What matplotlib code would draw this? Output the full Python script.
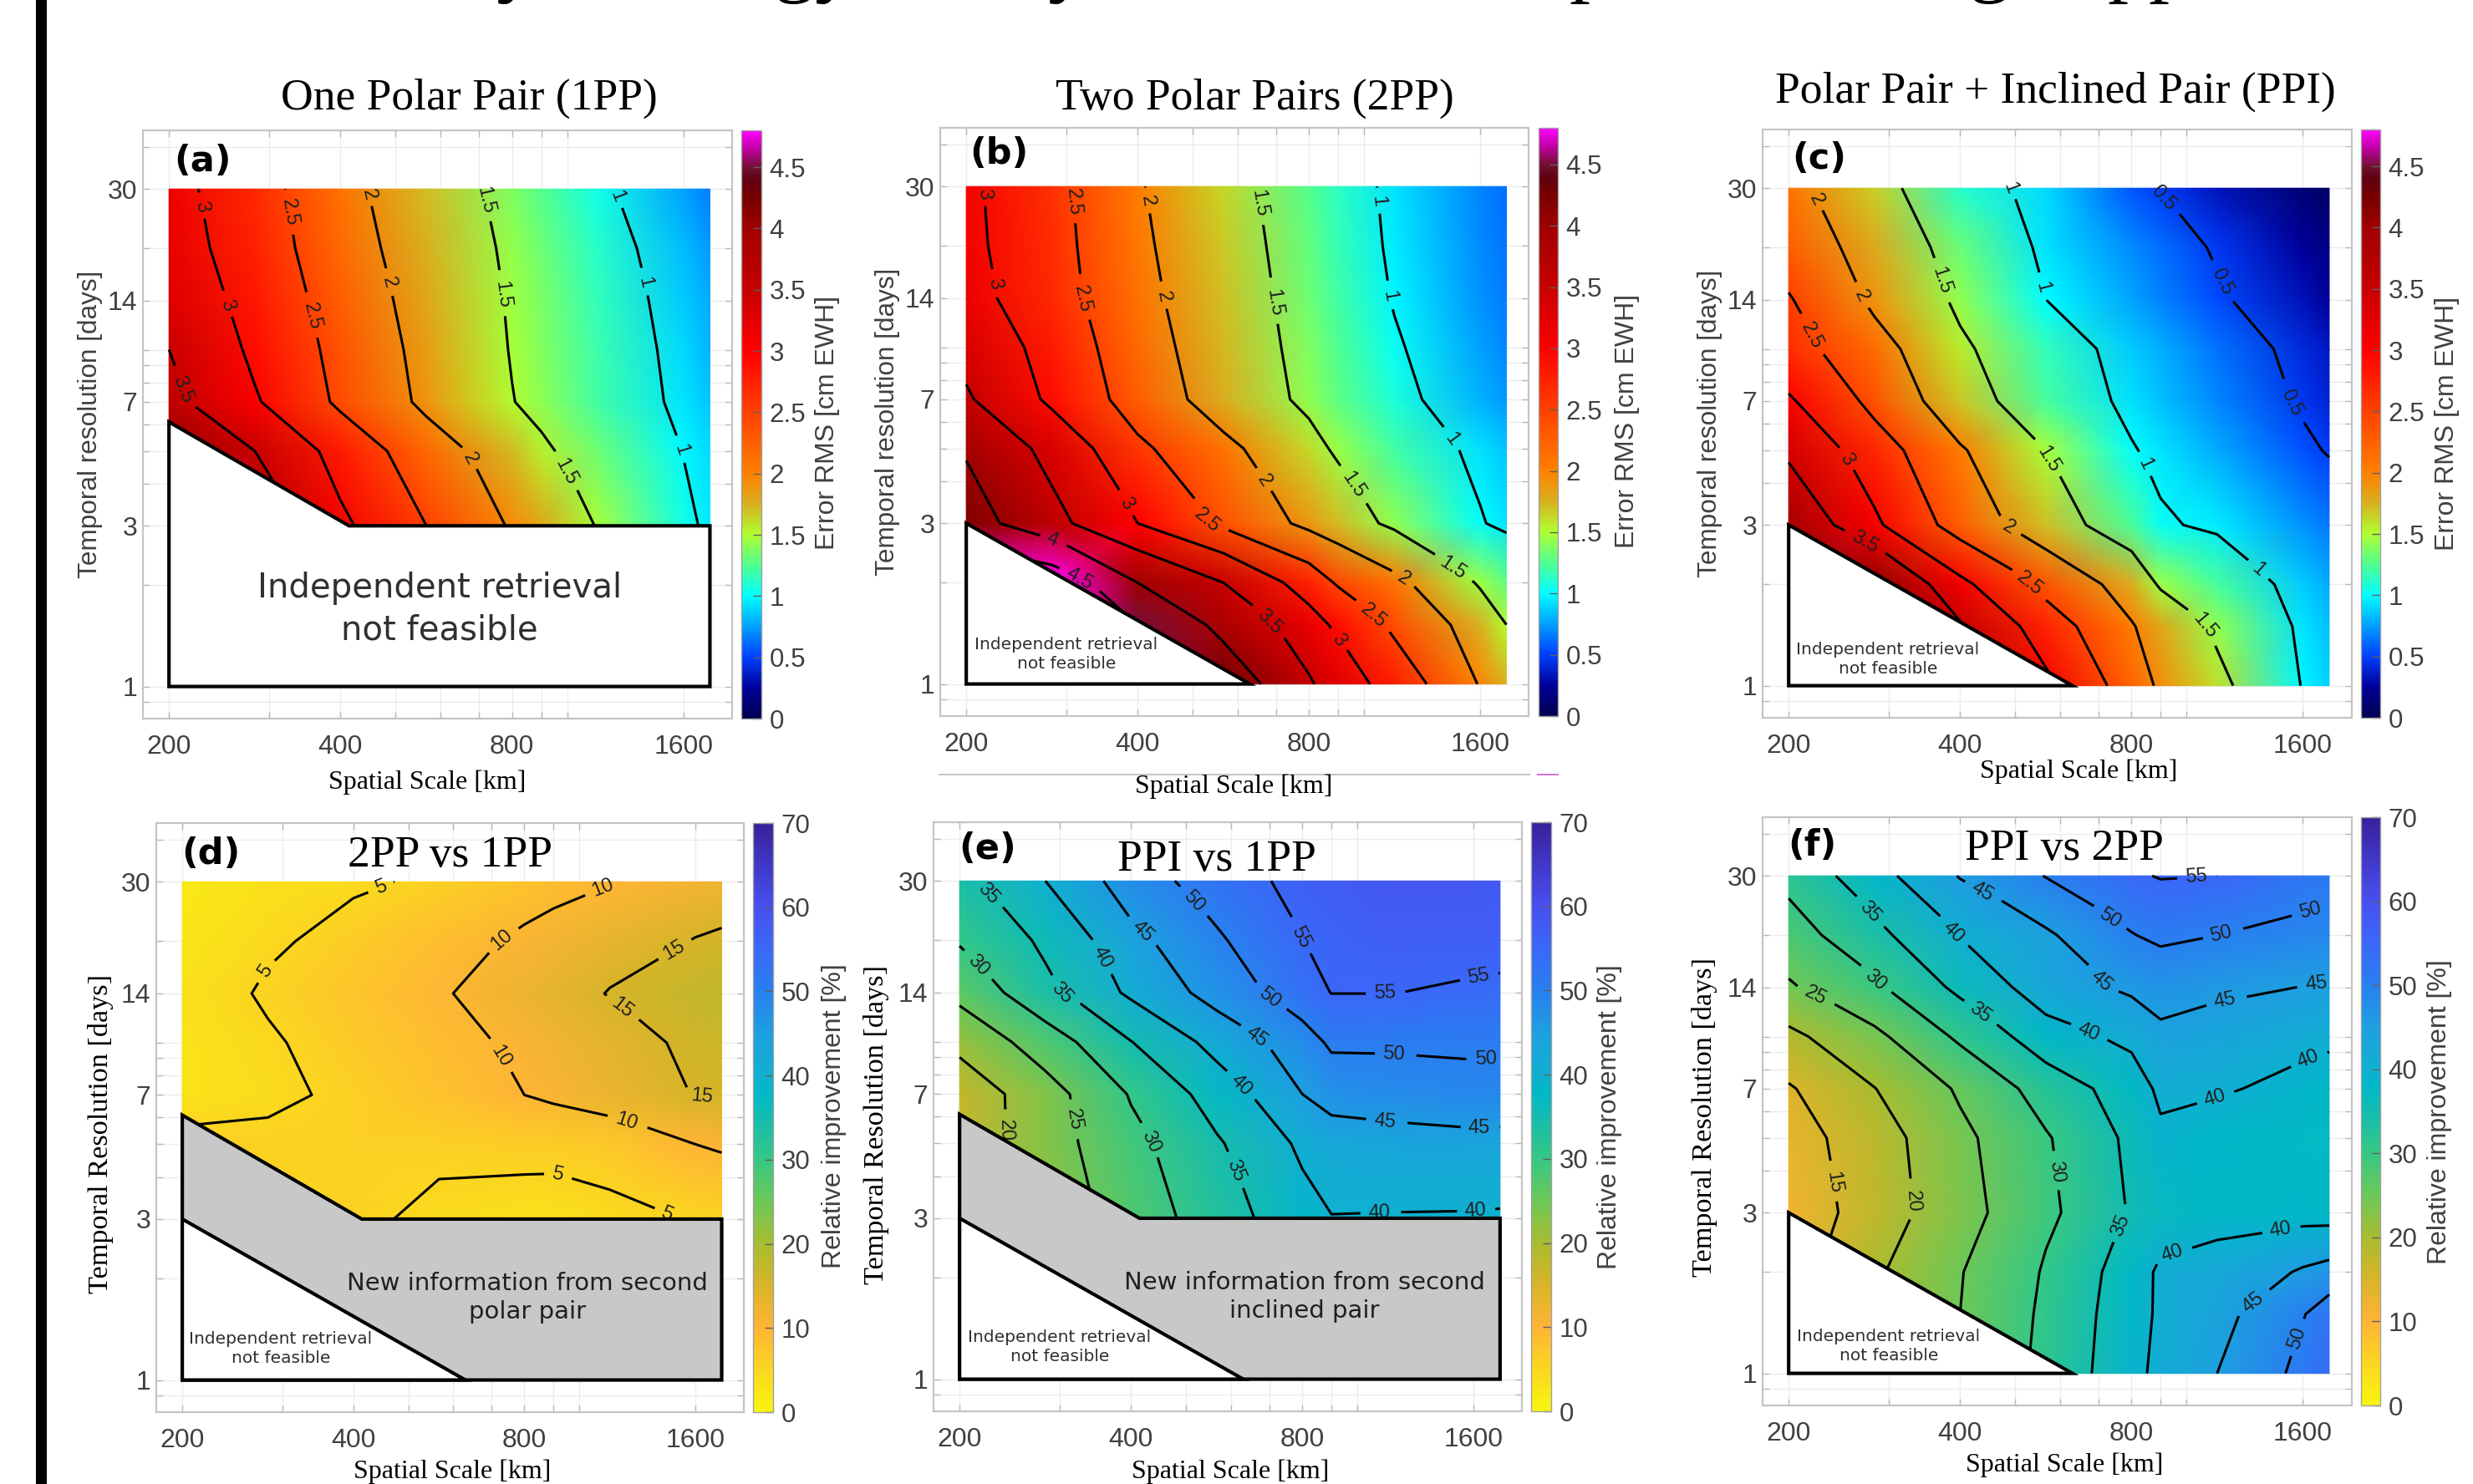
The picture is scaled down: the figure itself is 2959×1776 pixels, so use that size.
import numpy as np
import matplotlib
matplotlib.use("Agg")
import matplotlib.pyplot as plt
from matplotlib.colors import LinearSegmentedColormap, Normalize
from matplotlib.cm import ScalarMappable
from matplotlib.lines import Line2D
from matplotlib.patches import Polygon, Rectangle

# ---------- data ----------
spatial_km = [200, 283, 400, 566, 800, 900, 1131, 1600, 1780]
days_high = [3, 5, 7, 10, 14, 20, 30]
days_full = [1, 1.5, 2, 3, 5, 7, 10, 14, 20, 30]

z_1pp = [
    [4.8, 3.9, 3.08, 2.5, 1.95, 1.8, 1.48, 1.06, .95],
    [4.1, 3.5, 2.8, 2.2, 1.72, 1.55, 1.33, .99, .9],
    [3.6, 3.04, 2.41, 1.9, 1.51, 1.41, 1.2, .93, .85],
    [3.5, 2.9, 2.35, 1.85, 1.48, 1.38, 1.19, .9, .8],
    [3.3, 2.82, 2.27, 1.8, 1.46, 1.36, 1.16, .87, .78],
    [3.2, 2.74, 2.18, 1.76, 1.43, 1.33, 1.12, .83, .74],
    [3.14, 2.68, 2.11, 1.71, 1.37, 1.26, 1.05, .75, .66],
]
z_2pp = [
    [5.0, 5.0, 4.55, 4.3, 3.55, 3.27, 2.77, 1.97, 1.75],
    [5.0, 4.9, 4.5, 3.85, 3.2, 2.9, 2.4, 1.75, 1.5],
    [4.9, 4.8, 4.0, 3.5, 2.75, 2.45, 2.1, 1.45, 1.3],
    [4.2, 3.63, 3.0, 2.38, 1.88, 1.71, 1.41, 1.02, .93],
    [3.95, 3.33, 2.58, 2.1, 1.62, 1.44, 1.2, .92, .85],
    [3.55, 2.9, 2.27, 1.77, 1.41, 1.29, 1.08, .8, .74],
    [3.35, 2.8, 2.18, 1.73, 1.37, 1.25, 1.03, .75, .69],
    [3.15, 2.68, 2.11, 1.7, 1.33, 1.2, .98, .72, .66],
    [3.1, 2.65, 2.07, 1.67, 1.3, 1.17, .95, .7, .64],
    [3.08, 2.62, 2.03, 1.63, 1.26, 1.14, .93, .68, .62],
]
z_ppi = [
    [5.0, 4.6, 3.9, 3.1, 2.22, 1.93, 1.6, .98, .88],
    [4.6, 4.4, 3.55, 2.72, 2.03, 1.8, 1.42, .93, .84],
    [4.5, 4.1, 3.1, 2.35, 1.78, 1.45, 1.22, .87, .78],
    [3.9, 3.07, 2.26, 1.7, 1.23, 1.03, .95, .72, .65],
    [3.4, 2.7, 2.04, 1.48, 1.02, .93, .78, .55, .48],
    [3.05, 2.36, 1.68, 1.22, .92, .84, .69, .46, .4],
    [2.65, 2.16, 1.56, 1.16, .87, .79, .63, .42, .35],
    [2.53, 1.9, 1.42, 1.0, .76, .68, .53, .32, .25],
    [2.27, 1.79, 1.32, .93, .7, .62, .47, .25, .18],
    [2.1, 1.65, 1.12, .9, .56, .48, .33, .13, .07],
]
z_2pp_vs_1pp = [
    [4, 4.5, 5.6, 4.2, 3.4, 3.2, 4, 5.3, 5.7],
    [6, 5.8, 6, 5.9, 6.4, 6.5, 7, 10, 10.7],
    [3, 4.2, 5.9, 8, 10, 10.9, 12.7, 15.2, 15.3],
    [3, 4.6, 6.7, 8.7, 10.9, 11.8, 13.5, 15.9, 16.4],
    [3.2, 5.5, 7.6, 9.6, 12.4, 13.3, 15.2, 17, 17.5],
    [2.5, 4.4, 6.5, 8.5, 10.7, 11.5, 13, 15.2, 15.7],
    [2, 3.2, 4.3, 5.9, 7.8, 8.5, 9.8, 11.5, 12],
]
z_ppi_vs_1pp = [
    [15, 22, 27.4, 32.7, 38.5, 39.9, 39.8, 39.7, 39.6],
    [17, 23, 28.8, 34.5, 41, 42.3, 43, 43.6, 43.5],
    [17, 23.2, 30.4, 37.4, 45, 47.4, 48, 48.7, 48.6],
    [21.5, 27.7, 34.9, 41.9, 48, 50.8, 50.7, 50.8, 50.8],
    [26.5, 33.9, 41, 47.1, 53.1, 55.1, 55.1, 54.3, 54],
    [30.5, 36, 43.8, 49.4, 55, 55.8, 57, 57, 57],
    [34, 40, 47.8, 52.5, 56.7, 57.5, 58.5, 58.5, 58],
]
z_ppi_vs_2pp = [
    [15, 20, 25.5, 31.4, 38.7, 41.2, 45, 51.5, 54],
    [14, 19.5, 25, 31, 38.3, 40.7, 43.6, 49.7, 52.6],
    [13, 19.4, 24.8, 30.5, 37.8, 40.8, 42.1, 45.5, 46.5],
    [12, 17.6, 23.4, 29, 35.5, 37, 37.8, 38, 37.8],
    [13, 18, 24, 29.6, 36.2, 39.2, 38, 37.5, 37.5],
    [14.6, 19.9, 25.7, 32.4, 37.5, 41, 40.5, 38.6, 38],
    [19, 24, 31, 38.1, 41.3, 44.1, 43, 41.5, 41],
    [24.5, 29.4, 36.3, 42.8, 46, 47, 46, 44.9, 44.7],
    [28, 33.8, 40.4, 44.4, 49.8, 51, 50, 49, 48.8],
    [31.5, 38.4, 45.3, 50.2, 54.3, 55.3, 55, 52, 51.5],
]

rms_levels = [.5, 1, 1.5, 2, 2.5, 3, 3.5, 4, 4.5]
d_levels = [5, 10, 15]
e_levels = [20, 25, 30, 35, 40, 45, 50, 55]
f_levels = [15, 20, 25, 30, 35, 40, 45, 50, 55]
x_ticks = [200, 400, 800, 1600]
y_ticks = [1, 3, 7, 14, 30]
x_minor = [300, 500, 600, 700, 900, 1000]
y_minor = [.9, 2, 4, 5, 6, 8, 9, 10, 20, 40]
rms_ticks = [0, .5, 1, 1.5, 2, 2.5, 3, 3.5, 4, 4.5]
imp_ticks = [0, 10, 20, 30, 40, 50, 60, 70]

# ---------- styles ----------
W, H = 2959, 1776
fig = plt.figure(figsize=(W / 100, H / 100), dpi=100, facecolor="white")
SANS = "Liberation Sans"
SERIF = "Liberation Serif"
GREY = "#404040"


def fx(p):
    return p / W


def fy(p):
    return 1 - p / H


rms_nodes = [(0, "#000050"), (.25, "#00009a"), (.5, "#0040ff"), (.75, "#00a0ff"),
             (1, "#00ffff"), (1.25, "#50ff90"), (1.5, "#b0ff30"), (1.75, "#d8b020"),
             (2, "#ff8000"), (2.5, "#ff4000"), (3, "#ff0000"), (3.5, "#c80000"),
             (4, "#a00000"), (4.25, "#780000"), (4.4, "#600010"), (4.5, "#701030"),
             (4.65, "#c000a0"), (4.8, "#ff00ff")]
imp_nodes = [(0, "#f8f510"), (5, "#fbd620"), (10, "#ffb436"), (15, "#d8b428"),
             (20, "#a8bc30"), (25, "#6cc858"), (30, "#36c884"), (35, "#14bcb0"),
             (38, "#00b8c8"), (40, "#10b0d0"), (45, "#1ea0e0"), (50, "#2880f0"),
             (55, "#3a68f8"), (60, "#4850f0"), (65, "#4038c8"), (70, "#38209a")]
cm_rms = LinearSegmentedColormap.from_list("rms", [(v / 4.8, c) for v, c in rms_nodes], N=512)
cm_imp = LinearSegmentedColormap.from_list("imp", [(v / 70, c) for v, c in imp_nodes], N=512)
norm_rms = Normalize(0, 4.8)
norm_imp = Normalize(0, 70)


def panel(box, cbox, days, z, levels, cmap, norm, cticks, conv, labels):
    l, r, t, b = box
    ax = fig.add_axes([fx(l), fy(b), fx(r - l), (b - t) / H])
    ax.set_xscale("log")
    ax.set_yscale("log")
    ax.set_xlim(180, 1947)
    ax.set_ylim(.803, 44.8)
    ax.set_xticks(x_ticks)
    ax.set_xticklabels([str(v) for v in x_ticks])
    ax.set_yticks(y_ticks)
    ax.set_yticklabels([str(v) for v in y_ticks])
    ax.set_xticks(x_minor, minor=True)
    ax.set_yticks(y_minor, minor=True)
    ax.set_xticklabels([], minor=True)
    ax.set_yticklabels([], minor=True)
    ax.grid(which="both", color="#ececec", lw=1.0, zorder=0)
    ax.set_axisbelow(True)
    ax.tick_params(which="both", direction="in", length=6, width=1, color="#b8b8b8",
                   labelsize=23, labelcolor=GREY, top=True, right=True)
    ax.tick_params(axis="x", which="both", pad=14)
    ax.tick_params(axis="y", which="both", pad=5)
    for tl in ax.get_xticklabels() + ax.get_yticklabels():
        tl.set_fontfamily(SANS)
    for s in ax.spines.values():
        s.set_color("#c4c4c4")
        s.set_linewidth(1.6)
    X, Y = np.meshgrid(spatial_km, days)
    Z = np.array(z, dtype=float)
    ax.pcolormesh(X, Y, Z, cmap=cmap, norm=norm, shading="gouraud", zorder=1)
    cs = ax.contour(X, Y, Z, levels=levels, colors="k", linewidths=2.2, zorder=2)
    x0, sx, y1, sy = conv
    pts = [(200 * 2 ** ((px - x0) / sx), np.exp((y1 - py) / sy)) for px, py in labels]
    for lab in ax.clabel(cs, fmt="%g", fontsize=17, inline=True, inline_spacing=9,
                         manual=pts):
        lab.set_fontfamily(SANS)
        lab.set_color("#202020")
        lab.set_zorder(3)
    cl, cr = cbox
    cax = fig.add_axes([fx(cl), fy(b), fx(cr - cl), (b - t) / H])
    cb = fig.colorbar(ScalarMappable(norm=norm, cmap=cmap), cax=cax)
    cb.set_ticks(cticks)
    cb.set_ticklabels([format(v, "g") for v in cticks])
    cax.tick_params(direction="in", length=7, width=1, color="#606060",
                    labelsize=22.5, labelcolor=GREY, pad=7)
    for tl in cax.get_yticklabels():
        tl.set_fontfamily(SANS)
    cb.outline.set_edgecolor("#a0a0a0")
    cb.outline.set_linewidth(1)
    return ax


def mask(ax, pts, face):
    ax.add_patch(Polygon(pts, closed=True, facecolor=face, edgecolor="k", lw=3,
                         zorder=5, joinstyle="miter", clip_on=False))


a = panel((171, 876, 156, 860), (886.5, 911), days_high, z_1pp, rms_levels, cm_rms, norm_rms,
          rms_ticks, (317, 321.8, 1342, 285.8),
          [(372, 405), (423, 598), (550, 415), (585, 618), (672, 385), (710, 558), (880, 898),
           (900, 395), (935, 578), (1058, 925), (1158, 385), (1205, 553), (1278, 880), (345, 760)])
b = panel((1125, 1829, 153, 857), (1840.6, 1864), days_full, z_2pp, rms_levels, cm_rms, norm_rms,
          rms_ticks, (245, 321.8, 1337, 285.8),
          [(272, 380), (288, 557), (540, 988), (935, 1258), (443, 395), (465, 585), (698, 1018),
           (1013, 1200), (578, 395), (590, 585), (803, 940), (1068, 1128), (785, 400), (805, 595),
           (966, 953), (1168, 1097), (1010, 395), (1035, 580), (1155, 860), (815, 1215), (407, 1055),
           (460, 1128)])
c = panel((2109, 2813.5, 155, 859), (2824.5, 2848), days_full, z_ppi, rms_levels, cm_rms, norm_rms,
          rms_ticks, (228, 335.6, 1342, 285.8),
          [(270, 398), (362, 585), (655, 1040), (268, 660), (700, 1143), (515, 555), (735, 900),
           (1037, 1232), (605, 390), (718, 565), (920, 912), (1148, 1115), (950, 400), (1072, 555),
           (1212, 790), (333, 905), (375, 1065)])
d = panel((187, 890, 985, 1690), (901, 925), days_high, z_2pp_vs_1pp, d_levels, cm_imp, norm_imp,
          imp_ticks, (340, 321.8, 1330, 332),
          [(715, 218), (495, 403), (1043, 877), (1253, 948), (1130, 213), (937, 325), (938, 597),
           (1175, 747), (1262, 348), (1168, 487), (1318, 698)])
e = panel((1117, 1821.4, 984, 1689), (1832, 1856), days_high, z_ppi_vs_1pp, e_levels, cm_imp, norm_imp,
          imp_ticks, (232, 321.8, 1328, 332),
          [(280, 235), (428, 447), (757, 853), (262, 395), (575, 800), (445, 740), (500, 372),
           (760, 663), (1020, 950), (1200, 945), (570, 320), (790, 553), (1030, 750), (1208, 762),
           (663, 255), (815, 463), (1047, 597), (1220, 607), (875, 325), (1030, 455), (1207, 423),
           (300, 765)])
f = panel((2109, 2813.5, 978, 1682), (2824.5, 2848), days_full, z_ppi_vs_2pp, f_levels, cm_imp, norm_imp,
          imp_ticks, (228, 335.6, 1318, 332),
          [(1027, 195), (865, 268), (1075, 320), (1250, 272), (1225, 1238), (600, 240), (845, 423),
           (1085, 490), (1262, 430), (1132, 1150), (555, 312), (820, 530), (1063, 695), (1247, 610),
           (980, 1052), (1192, 1000), (393, 265), (602, 502), (875, 980), (392, 432), (740, 862),
           (278, 465), (473, 928), (312, 885)])

tri = [(200, 1), (200, 3), (630, 1)]
step = [(200, 1), (200, 6.1), (414, 3), (1780, 3), (1780, 1)]
mask(a, step, "white")
mask(b, tri, "white")
mask(c, tri, "white")
mask(d, step, "#c8c8c8")
mask(d, tri, "white")
mask(e, step, "#c8c8c8")
mask(e, tri, "white")
mask(f, tri, "white")


def txt(x, y, s, **kw):
    fig.text(fx(x), fy(y), s, ha="center", va="center", **kw)


titles = [(561, 118, "One Polar Pair (1PP)"), (1501, 118, "Two Polar Pairs (2PP)"),
          (2459, 110, "Polar Pair + Inclined Pair (PPI)"), (538, 1024, "2PP vs 1PP"),
          (1456, 1029, "PPI vs 1PP"), (2470, 1016, "PPI vs 2PP")]
for x, y, s in titles:
    txt(x, y, s, family=SERIF, fontsize=38.5, color="k", zorder=10)

for x, y in [(511, 936), (1476, 941), (2487, 923), (541, 1761), (1472, 1761), (2470, 1753)]:
    txt(x, y, "Spatial Scale [km]", family=SERIF, fontsize=23, color="k")

for x, y in [(108, 508), (1062, 505), (2046, 507)]:
    txt(x, y, "Temporal resolution [days]", family=SANS, fontsize=22.7, color=GREY, rotation=90)
for x, y in [(121, 1357), (1049, 1346), (2040, 1337)]:
    txt(x, y, "Temporal Resolution [days]", family=SERIF, fontsize=24.7, color="k", rotation=90)
for x, y in [(990, 506), (1947, 504), (2928, 507)]:
    txt(x, y, "Error RMS [cm EWH]", family=SANS, fontsize=23, color=GREY, rotation=90)
for x, y in [(998, 1336), (1926, 1337), (2919, 1331)]:
    txt(x, y, "Relative improvement [%]", family=SANS, fontsize=23, color=GREY, rotation=90)

for x, y, s in [(242, 193, "(a)"), (1195, 184, "(b)"), (2177, 190, "(c)"),
                (252, 1022, "(d)"), (1182, 1016, "(e)"), (2168, 1012, "(f)")]:
    txt(x, y, s, family="DejaVu Sans", fontweight="bold", fontsize=31, color="k", zorder=10)

txt(526, 729, "Independent retrieval\nnot feasible", family="DejaVu Sans", fontsize=29,
    color="#303030", zorder=10, linespacing=1.35)
for x, y in [(1276, 783), (2259, 789), (336, 1614), (1268, 1612), (2260, 1611)]:
    txt(x, y, "Independent retrieval\nnot feasible", family="DejaVu Sans", fontsize=14.5,
        color="#303030", zorder=10, linespacing=1.3)
txt(631, 1553, "New information from second\npolar pair", family="DejaVu Sans", fontsize=21,
    color="#202020", zorder=10, linespacing=1.3)
txt(1561, 1552, "New information from second\ninclined pair", family="DejaVu Sans", fontsize=21,
    color="#202020", zorder=10, linespacing=1.3)

# framing elements of the source page
fig.add_artist(Rectangle((fx(43), 0), fx(12.5), 1, transform=fig.transFigure,
                         facecolor="k", edgecolor="none"))
fig.add_artist(Line2D([fx(1124), fx(1830)], [fy(927), fy(927)], color="#c4c4c4", lw=1.4))
fig.add_artist(Line2D([fx(1840), fx(1864)], [fy(927), fy(927)], color="#d070d0", lw=1.4))

# bottoms of the cropped page heading
for x, s in [(619, "y"), (976, "gy"), (1279, "y"), (1902, "p"), (2381, "g"), (2571, "pp")]:
    fig.text(fx(x), fy(-16), s, family=SERIF, fontsize=72, ha="center", va="baseline", color="k")

fig.savefig("out.png", dpi=100)
